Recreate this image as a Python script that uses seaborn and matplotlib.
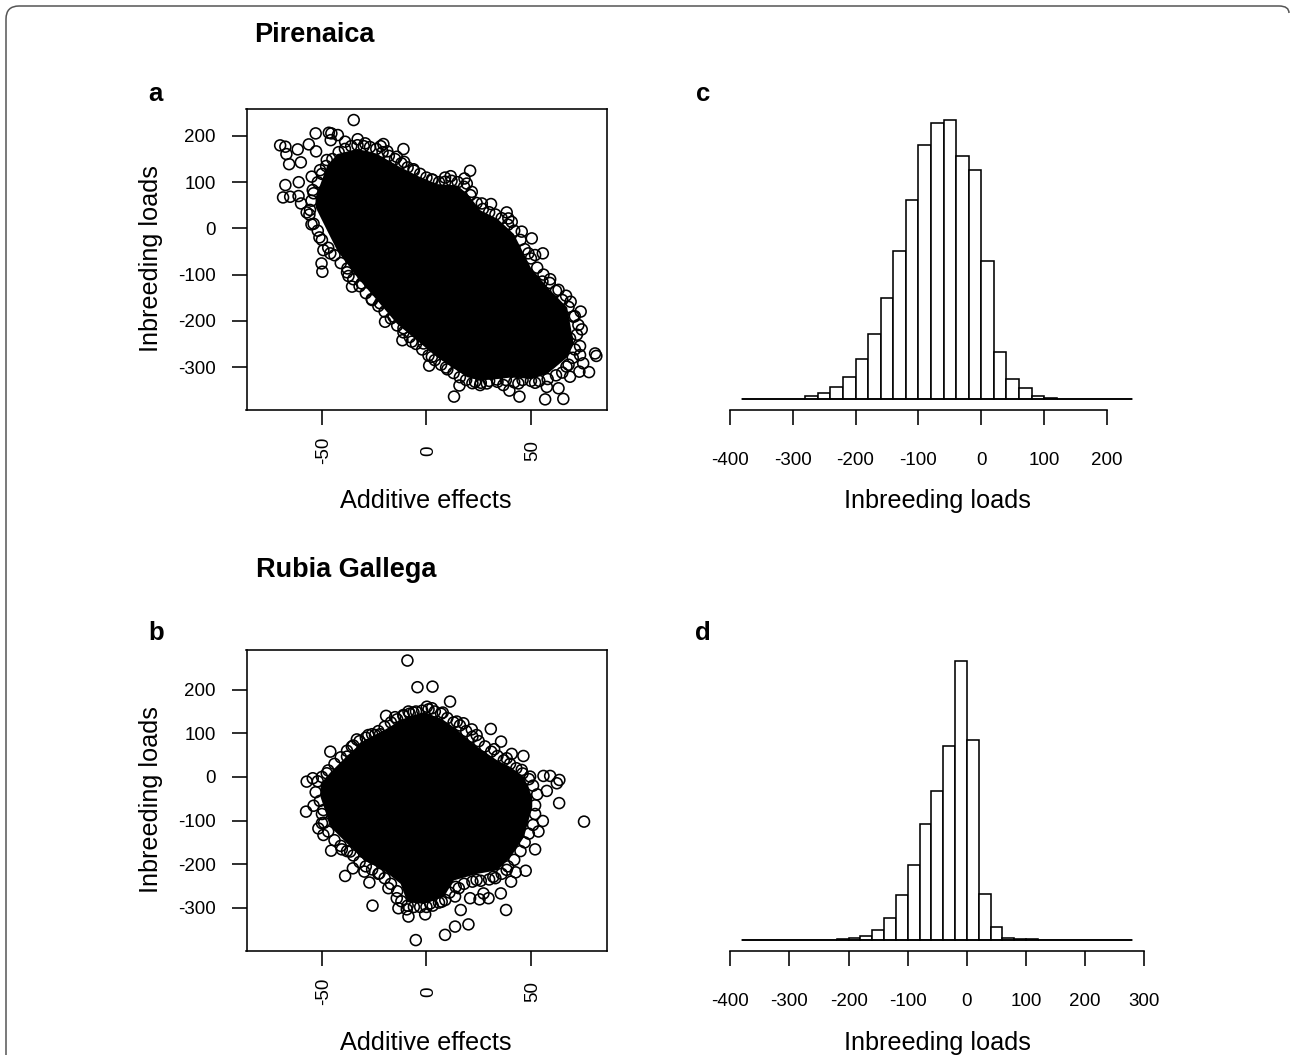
import numpy as np
import pandas as pd
import matplotlib
matplotlib.use("Agg")
import matplotlib.pyplot as plt
from matplotlib.patches import PathPatch
from matplotlib.path import Path
from matplotlib.transforms import IdentityTransform, ScaledTranslation
import seaborn as sns

# ---------- data ----------
# Panel a: individually visible points
a_x = [-34.8,-53,-46.7,-45.5,-42.4,-45.8,-32.9,-38.9,-70,-67.5,-56.3,-61.6,-67,-52.8,-65.7,-60.1,-29.3,-20.6,-21.9,-11,
       -18.7,-14.2,-10.7,-6.2,20.9,11.6,8.9,18.2,2.6,19.3,21.7,-61.1,-67.5,-68.6,-65.2,-61.2,-60,-57.3,-55,-54.4,
       -51.2,-49.3,-46,-50.2,-49.8,-37.8,-37.3,-35.6,-31,-26.2,-22.2,-19.8,-15.8,-11,-11.5,-7,-1.4,2.6,1.3,9.4,
       15.8,13.2,23.3,25.7,28.9,33.7,36.8,39.7,44.5,44,52,56.8,65.5,57.6,63.2,68.7,73.2,77.8,80.7,81.3,
       73.8,74.3,72.7,73.5,73.5,75,69,66.8,63.2,59.2,55.5,55.7,50.4,48.8,52,45.6,40.8,38.4,30.9,26.5,
       39.2,-47.7,-50.9,-54.9,-54,-55.7,67,70.3,68.7,
       # upper edge of the mass
       -52,-50,-48,-45,-42,-39,-36,-33,-30,-27,-24,-21,-18,-15,-12,-9,-6,-3,0,3,6,9,12,15,18,21,24,27,30,33,36,39,42,45,47,50,53,56,59,62,65,68,71,72,
       # lower edge of the mass
       -55,-56,-54,-52,-50,-47,-44,-41,-38,-35,-32,-29,-26,-23,-20,-17,-14,-11,-8,-5,-2,1,4,7,10,13,16,19,22,26,30,34,38,42,46,50,54,58,62,65,68,70,71]
a_y = [234.5,205.6,207,205.6,202,191,193,187.6,179.7,176.8,181.8,171,160.9,166.7,139,142.9,184,182.5,178,171.7,
       166.7,155,144,128,124.8,113,110,108,106,97,79,100,93.8,67,68.5,70,54,34.6,8.7,83,
       -19.5,-47,-54,-75.8,-93.8,-86.6,-103,-126,-119,-153,-162,-202,-191,-216,-242,-245,-249,-278,-297,-301,
       -340,-364,-332,-339,-335.5,-327,-339,-351,-364,-335.5,-334,-370,-369,-343,-346,-321,-310,-311,-270.6,-276,
       -180,-218.6,-209,-254.7,-274,-292,-158.7,-145.7,-133,-110,-115,-54,-21.6,-54,-57.7,-7,14,34.6,52.7,54,
       21.6,148,126,112,76,40,-299,-191,-238,
       100,118,135,150,165,172,178,180,178,176,172,165,157,150,141,132,125,118,110,105,100,101,103,100,90,72,55,42,35,30,22,8,-5,-25,-45,-65,-85,-100,-118,-135,-155,-170,-190,-230,
       60,30,10,-5,-25,-42,-58,-75,-95,-110,-125,-140,-155,-168,-180,-195,-210,-225,-235,-250,-262,-275,-285,-295,-305,-313,-322,-328,-335,-334,-330,-332,-328,-333,-328,-330,-330,-326,-318,-312,-295,-280,-262]
# Panel a: outline of the solid mass of overlapping points
a_core_x = [-53.3,-47.7,-42.9,-33.3,-23.8,-14.2,-4.6,4.9,14.5,19.3,25.7,33.7,41.6,49.6,57.6,67.1,70.3]
a_core_hi = [68,137,162,173,162,137,115,97,94,76,40,22,-11,-83,-126,-170,-249]
a_core_lo = [47,-4,-47,-105,-155,-206,-242,-278,-307,-321,-328,-325,-321,-325,-314,-278,-249]

# Panel b: individually visible points
b_x = [-9.1,-4.3,2.9,11.3,0.2,2.6,-19.3,-15,-11,-8.6,-6.2,7.8,17.7,14.5,30.8,21.7,24,35.7,32.4,40.8,
       46.4,38.4,45.6,49.6,56,59.2,63.6,62.4,57.6,63.5,75.4,55.7,53.6,52,47.5,42.7,40.5,35.6,38.1,29.7,
       25.4,16.4,20.1,13.7,8.9,-5.1,-0.6,-8.6,-13.4,-9.4,-25.8,-27.3,-18.2,-38.9,-35.2,-29.7,-22.5,-45.6,-40.5,-36.5,
       -49.3,-51.7,-50,-57.6,-54,-49.3,-57.3,-54.4,-46,-47.7,-33.3,-27.8,-24.6,-22.2,-38,-35.7,
       15.5,20.9,27.3,32,24,38.4,13.7,7.3,1.8,-14.2,
       # upper edge of the mass
       -52,-50,-47,-44,-41,-38,-35,-32,-29,-26,-23,-20,-17,-14,-11,-8,-5,-2,1,4,7,10,13,16,19,22,25,28,31,34,37,40,43,46,49,51,53,
       # lower edge of the mass
       -53,-51,-50,-49,-47,-44,-41,-38,-35,-32,-29,-26,-23,-20,-17,-14,-12,-9,-6,-3,0,3,6,9,11,14,18,22,26,30,33,36,39,42,45,47,49,51,52,52]
b_y = [266.8,205.7,207,172.8,161,157.5,140,137,142,150,147.6,147.6,123,127,110,109,96,81,63.5,52.8,
       48,42.8,16,0.8,2.3,2.3,-6.9,-14.5,-32,-60,-102.4,-101,-125,-166,-215,-218.7,-240,-267,-305,-278,
       -280.6,-305,-338,-343,-362,-374,-315,-320,-301,-303.5,-295,-242,-255,-227,-209.5,-217,-221,-169,-166,-171,
       -133,-118,-106,-79.5,-66,-76,-10.7,-3,58,8.4,86,96,96,98,46.6,69.6,
       -255,-278,-267,-229,-236,-213,-274,-286,-290,-278,
       -10,0,15,30,45,60,72,82,90,98,105,115,125,132,140,145,150,152,155,150,145,135,125,118,105,92,82,70,58,48,38,30,20,8,-5,-20,-40,
       -35,-55,-85,-105,-125,-145,-158,-170,-180,-195,-205,-212,-222,-232,-245,-262,-285,-295,-298,-298,-298,-295,-288,-282,-265,-252,-245,-240,-238,-235,-232,-222,-205,-190,-170,-150,-130,-110,-85,-65]
b_core_x = [-50.9,-46.1,-38.1,-30.1,-20.6,-12.6,-9.4,-1.4,8.1,12.9,24.1,33.7,40,46.4,50.4]
b_core_hi = [-14.5,12,50,85,108,131,138,150,131,115,70,39,24,1,-45]
b_core_lo = [-45,-114,-152,-190,-213,-244,-286,-290,-274,-236,-221,-213,-183,-137,-68]

# Histogram c: bins of width 20 from -380 to 240
c_edges = list(range(-380, 241, 20))
c_counts = [0.5,0.5,1,1,2,10,19,36,68,122,196,303,446,598,763,830,839,731,687,415,141,62,33,10,3,2,1,0.5,0,0,0]
# Histogram d: bins of width 20 from -380 to 280
d_edges = list(range(-380, 281, 20))
d_counts = [0,0,0,0,0,1,1,1,2,6,13,31,67,135,225,348,447,581,838,600,138,40,6,2,2,0,0,0,0,0,0,0,0]

xy_ticks_x = [-50, 0, 50]
a_yticks = [-300, -200, -100, 0, 100, 200]
b_yticks = [-300, -200, -100, 0, 100, 200]
c_ticks = [-400, -300, -200, -100, 0, 100, 200]
d_ticks = [-400, -300, -200, -100, 0, 100, 200, 300]

titles = ["Pirenaica", "Rubia Gallega"]
x_label_scatter = "Additive effects"
y_label = "Inbreeding loads"
x_label_hist = "Inbreeding loads"

# ---------- drawing ----------
W, H = 1290, 1055
sns.set_theme(style="white")
plt.rcParams["font.family"] = ["Liberation Sans", "DejaVu Sans"]
plt.rcParams["axes.unicode_minus"] = False
LW = 1.15
fig = plt.figure(figsize=(W / 100, H / 100), dpi=100, facecolor="white")


def px_axes(x0, y0, x1, y1):
    return fig.add_axes([x0 / W, 1 - y1 / H, (x1 - x0) / W, (y1 - y0) / H])


def ftext(x, y, s, **kw):
    fig.text(x / W, 1 - y / H, s, ha=kw.pop("ha", "center"), va=kw.pop("va", "center"), color="black", **kw)


def scatter_panel(box, xlim, ylim, xs, ys, cx, hi, lo, yticks):
    ax = px_axes(*box)
    ax.fill_between(cx, lo, hi, color="black", lw=0, zorder=2)
    sns.scatterplot(data=pd.DataFrame({"x": xs, "y": ys}), x="x", y="y", ax=ax, marker="o", s=62,
                    facecolor="none", edgecolor="black", linewidth=1.15, zorder=3)
    ax.set_xlim(*xlim)
    ax.set_ylim(*ylim)
    ax.set_xticks(xy_ticks_x)
    ax.set_yticks(yticks)
    ax.set_xlabel("")
    ax.set_ylabel("")
    ax.tick_params(axis="y", direction="out", length=11, width=LW, labelsize=13.5, color="black",
                   labelcolor="black", pad=11, left=True)
    ax.tick_params(axis="x", direction="out", length=11, width=LW, labelsize=13.5, color="black",
                   labelcolor="black", pad=18, bottom=True)
    nudge = ScaledTranslation(2 / 100, 0, fig.dpi_scale_trans)
    for lab in ax.get_xticklabels():
        lab.set_rotation(90)
        lab.set_va("center")
        lab.set_transform(lab.get_transform() + nudge)
    for s in ax.spines.values():
        s.set_linewidth(LW)
        s.set_color("black")
        s.set_visible(True)
    return ax


def hist_panel(left, right, axis_y, base_y, top_y, xmin, xscale, edges, counts, ticks):
    ax = px_axes(left, top_y - 2, right, axis_y)
    centers = [(edges[i] + edges[i + 1]) / 2 for i in range(len(counts))]
    sns.histplot(x=centers, weights=counts, bins=edges, ax=ax, stat="count", color="white", alpha=1,
                 edgecolor="black", linewidth=LW)
    ax.set_xlim(xmin, xmin + (right - left) / xscale)
    # the baseline sits above the detached axis line
    peak = max(counts)
    unit = (base_y - top_y) / peak
    ax.set_ylim(-(axis_y - base_y) / unit, (base_y - top_y + 2) / unit)
    ax.set_xticks(ticks)
    ax.set_yticks([])
    ax.set_xlabel("")
    ax.set_ylabel("")
    ax.patch.set_alpha(0)
    ax.tick_params(axis="x", direction="out", length=11, width=LW, labelsize=13.5, color="black",
                   labelcolor="black", pad=19.5, bottom=True)
    for k in ["top", "left", "right"]:
        ax.spines[k].set_visible(False)
    ax.spines["bottom"].set_visible(True)
    ax.spines["bottom"].set_linewidth(LW)
    ax.spines["bottom"].set_color("black")
    ax.spines["bottom"].set_bounds(ticks[0], ticks[-1])
    # baseline across the whole bin range
    ax.axhline(0, xmin=(edges[0] - xmin) / ((right - left) / xscale),
               xmax=(edges[-1] - xmin) / ((right - left) / xscale), color="black", lw=LW)
    return ax


scatter_panel((246.5, 109, 607, 410), (-86.1, 86.4), (-393, 258.4), a_x, a_y, a_core_x, a_core_hi, a_core_lo, a_yticks)
scatter_panel((246.5, 650, 607, 951), (-86.1, 86.4), (-399, 291), b_x, b_y, b_core_x, b_core_hi, b_core_lo, b_yticks)
hist_panel(725, 1150, 410, 399.3, 119.7, -400 - 4.7 / 0.629, 0.629, c_edges, c_counts, c_ticks)
hist_panel(725, 1160, 950.7, 940, 660.7, -400 - 5.3 / 0.5914, 0.5914, d_edges, d_counts, d_ticks)

# labels
for x, y, s in [(426, 501, x_label_scatter), (426, 1043, x_label_scatter),
                (937, 501, x_label_hist), (937, 1043, x_label_hist)]:
    ftext(x, y, s, fontsize=18.2)
for y in [259, 800]:
    ftext(151, y, y_label, fontsize=18.2, rotation=90)
ftext(254, 35, titles[0], fontsize=19.5, fontweight="bold", ha="left")
ftext(256, 570, titles[1], fontsize=19.5, fontweight="bold", ha="left")
for x, y, s in [(155, 94, "a"), (156, 633, "b"), (703, 94, "c"), (703, 633, "d")]:
    ftext(x, y, s, fontsize=18.5, fontweight="bold")

# rounded page frame: left and top edges, ending at the right page edge (pixel coordinates)
frame_path = Path([(6, 0), (6, H - 19), (6, H - 6), (19, H - 6), (1279, H - 6), (1289, H - 6), (1289, H - 13)],
                  [Path.MOVETO, Path.LINETO, Path.CURVE3, Path.CURVE3, Path.LINETO, Path.CURVE3, Path.CURVE3])
fig.add_artist(PathPatch(frame_path, transform=IdentityTransform(), fc="none", ec="#555555", lw=1.1, clip_on=False))

fig.savefig("out.png", dpi=100)
